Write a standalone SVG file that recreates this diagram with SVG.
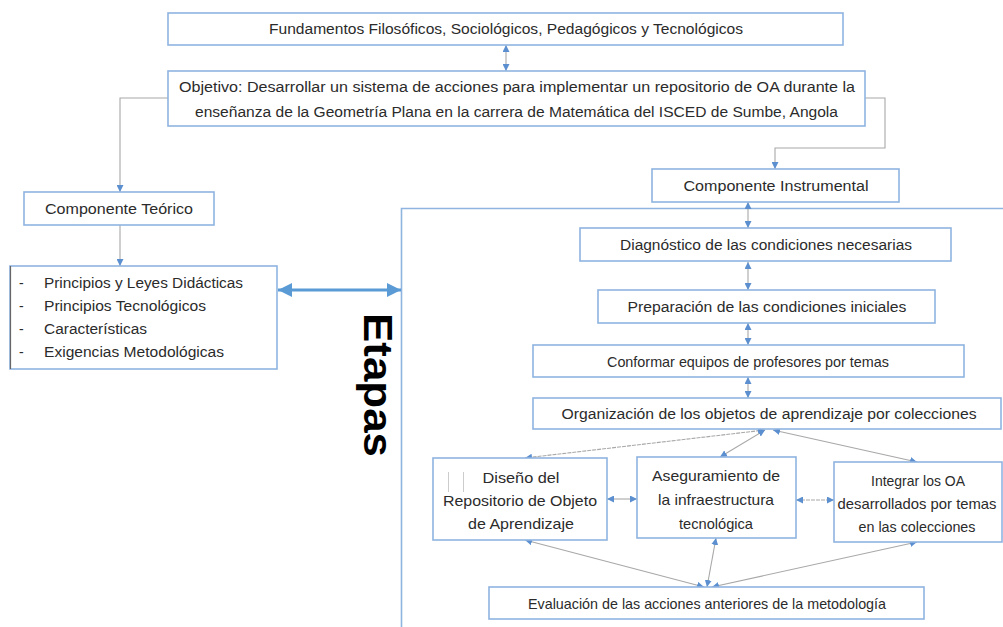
<svg xmlns="http://www.w3.org/2000/svg" width="1003" height="627" viewBox="0 0 1003 627">
<style>
.box{fill:#fff;stroke:#8fb4e0;stroke-width:1.6}
.t{font-family:"Liberation Sans",Arial,sans-serif;font-size:14px;fill:#2b2b2b;text-anchor:middle}
.n{font-size:15px}
.tl{font-family:"Liberation Sans",Arial,sans-serif;font-size:14px;fill:#2b2b2b}
.cd{fill:none;stroke:#a8a8a8;stroke-width:1.1;marker-start:url(#ah);marker-end:url(#ah)}
.ce{fill:none;stroke:#a8a8a8;stroke-width:1.1;marker-end:url(#ah)}
</style>
<defs>
<marker id="ah" viewBox="0 0 10 10" refX="10" refY="5" markerWidth="7" markerHeight="7" markerUnits="userSpaceOnUse" orient="auto-start-reverse">
<path d="M0,0 L10,5 L0,10 z" fill="#5b8fcf"/>
</marker>
<marker id="big" viewBox="0 0 10 10" refX="10" refY="5" markerWidth="16" markerHeight="14" markerUnits="userSpaceOnUse" orient="auto-start-reverse">
<path d="M0,0 L10,5 L0,10 z" fill="#5b9bd5"/>
</marker>
</defs>
<rect width="1003" height="627" fill="#fff"/>

<g id="frame">
<path d="M1003,208.5 H401.5 V627" fill="none" stroke="#8fb4e0" stroke-width="1.6"/>
<text transform="translate(364,313) rotate(90)" font-family="'Liberation Sans',Arial,sans-serif" font-weight="bold" font-size="40" fill="#000" textLength="144" lengthAdjust="spacingAndGlyphs">Etapas</text>
</g>

<g id="connectors">
<path class="cd" d="M506,45 V71"/>
<path class="ce" d="M168,98 H120 V192"/>
<path class="ce" d="M865,98 H885 V148 H775 V169"/>
<path class="ce" d="M120,225 V266"/>
<path d="M278,290 H401" fill="none" stroke="#5b9bd5" stroke-width="3.2" marker-start="url(#big)" marker-end="url(#big)"/>
<path class="cd" d="M748,202 V228"/>
<path class="cd" d="M748,262 V290"/>
<path class="cd" d="M748,323 V345"/>
<path class="cd" d="M748,377 V398"/>
<path class="cd" d="M765,430 L525,458" stroke-dasharray="4 1"/>
<path class="cd" d="M765,430 L720,457"/>
<path class="cd" d="M773,430 L917,462"/>
<path class="cd" d="M607,499 H637"/>
<path class="cd" d="M796,500 H834" stroke-dasharray="4 1"/>
<path class="cd" d="M525,540 L704,587"/>
<path class="cd" d="M716,538 L707,587"/>
<path class="cd" d="M917,542 L712,587"/>
</g>

<g id="fundamentos">
<rect class="box" x="168" y="13" width="675" height="32"/>
<text class="t" x="506" y="34" textLength="474" lengthAdjust="spacingAndGlyphs">Fundamentos Filosóficos, Sociológicos, Pedagógicos y Tecnológicos</text>
</g>

<g id="objetivo">
<rect class="box" x="168" y="71" width="697" height="55"/>
<text class="tl" x="179" y="92" textLength="676" lengthAdjust="spacingAndGlyphs">Objetivo: Desarrollar un sistema de acciones para implementar un repositorio de OA durante la</text>
<text class="tl" x="195" y="117" textLength="643" lengthAdjust="spacingAndGlyphs">enseñanza  de la Geometría Plana en la carrera de Matemática del ISCED de Sumbe, Angola</text>
</g>

<g id="teorico">
<rect class="box" x="24" y="192" width="190" height="33"/>
<text class="t" x="119" y="214" textLength="148" lengthAdjust="spacingAndGlyphs">Componente Teórico</text>
</g>

<g id="lista">
<rect class="box" x="10" y="266" width="267" height="103"/>
<line x1="10.5" y1="266" x2="10.5" y2="369" stroke="#666" stroke-width="1.2"/>
<text class="tl" x="19" y="288">-</text>
<text class="tl" x="44" y="288" textLength="199" lengthAdjust="spacingAndGlyphs">Principios y Leyes Didácticas</text>
<text class="tl" x="19" y="311">-</text>
<text class="tl" x="44" y="311" textLength="162" lengthAdjust="spacingAndGlyphs">Principios Tecnológicos</text>
<text class="tl" x="19" y="334">-</text>
<text class="tl" x="44" y="334" textLength="103" lengthAdjust="spacingAndGlyphs">Características</text>
<text class="tl" x="19" y="357">-</text>
<text class="tl" x="44" y="357" textLength="180" lengthAdjust="spacingAndGlyphs">Exigencias Metodológicas</text>
</g>

<g id="instrumental">
<rect class="box" x="652" y="169" width="247" height="33"/>
<text class="t" x="776" y="191" textLength="185" lengthAdjust="spacingAndGlyphs">Componente Instrumental</text>
</g>

<g id="diagnostico">
<rect class="box" x="580" y="228" width="371" height="33"/>
<text class="t" x="766" y="250" textLength="292" lengthAdjust="spacingAndGlyphs">Diagnóstico de las condiciones necesarias</text>
</g>

<g id="preparacion">
<rect class="box" x="598" y="290" width="337" height="33"/>
<text class="t" x="767" y="312" textLength="279" lengthAdjust="spacingAndGlyphs">Preparación de las condiciones iniciales</text>
</g>

<g id="conformar">
<rect class="box" x="533" y="345" width="431" height="32"/>
<text class="t n" x="748" y="367" textLength="282" lengthAdjust="spacingAndGlyphs">Conformar equipos de profesores por temas</text>
</g>

<g id="organizacion">
<rect class="box" x="533" y="398" width="468" height="31"/>
<text class="t" x="769" y="419" textLength="415" lengthAdjust="spacingAndGlyphs">Organización de los objetos de aprendizaje por colecciones</text>
</g>

<g id="diseno">
<rect class="box" x="433" y="458" width="174" height="82"/>
<line x1="448.5" y1="472" x2="448.5" y2="492" stroke="#ccc" stroke-width="1"/>
<line x1="463.5" y1="472" x2="463.5" y2="492" stroke="#ccc" stroke-width="1"/>
<text class="t n" x="521" y="483" textLength="77" lengthAdjust="spacingAndGlyphs">Diseño del</text>
<text class="t n" x="520" y="506" textLength="154" lengthAdjust="spacingAndGlyphs">Repositorio de Objeto</text>
<text class="t n" x="521" y="529" textLength="106" lengthAdjust="spacingAndGlyphs">de Aprendizaje</text>
</g>

<g id="aseguramiento">
<rect class="box" x="637" y="457" width="159" height="81"/>
<text class="t n" x="716" y="481" textLength="128" lengthAdjust="spacingAndGlyphs">Aseguramiento de</text>
<text class="t n" x="716" y="505" textLength="116" lengthAdjust="spacingAndGlyphs">la infraestructura</text>
<text class="t n" x="716" y="529" textLength="74" lengthAdjust="spacingAndGlyphs">tecnológica</text>
</g>

<g id="integrar">
<rect class="box" x="834" y="462" width="168" height="80"/>
<text class="t n" x="918" y="486" textLength="94" lengthAdjust="spacingAndGlyphs">Integrar los OA</text>
<text class="t n" x="917" y="509" textLength="159" lengthAdjust="spacingAndGlyphs">desarrollados por temas</text>
<text class="t n" x="917" y="532" textLength="117" lengthAdjust="spacingAndGlyphs">en las colecciones</text>
</g>

<g id="evaluacion">
<rect class="box" x="489" y="587" width="435" height="32"/>
<text class="t n" x="707" y="609" textLength="358" lengthAdjust="spacingAndGlyphs">Evaluación de las acciones anteriores de la metodología</text>
</g>
</svg>
